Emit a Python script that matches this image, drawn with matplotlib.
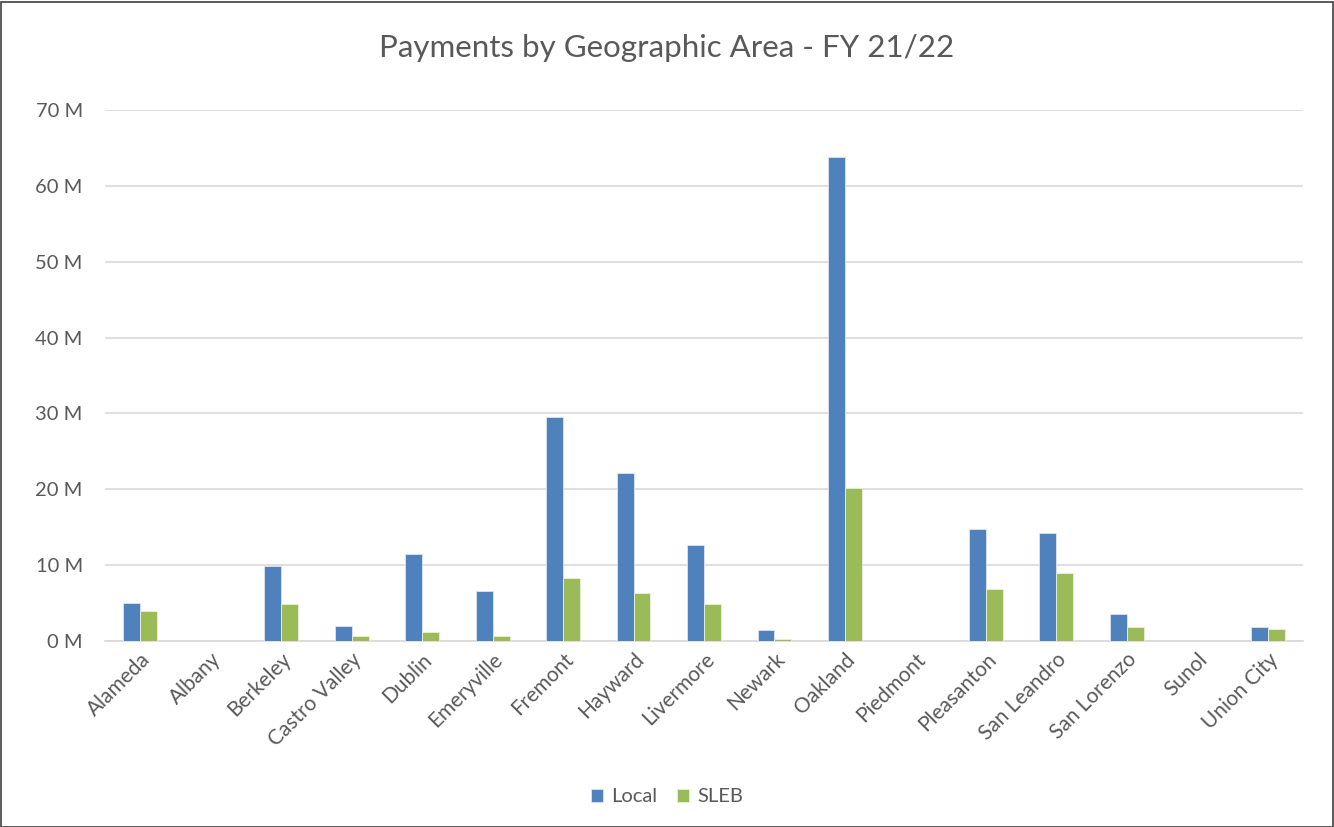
import matplotlib
matplotlib.use("Agg")
import matplotlib.pyplot as plt
import numpy as np
from matplotlib.patches import Rectangle

categories = ["Alameda", "Albany", "Berkeley", "Castro Valley", "Dublin", "Emeryville",
              "Fremont", "Hayward", "Livermore", "Newark", "Oakland", "Piedmont",
              "Pleasanton", "San Leandro", "San Lorenzo", "Sunol", "Union City"]
local_m = [5.0, 0.0, 9.9, 2.0, 11.5, 6.6, 29.5, 22.2, 12.6, 1.5, 63.8, 0.0,
           14.7, 14.2, 3.6, 0.0, 1.8]
sleb_m = [4.0, 0.0, 4.9, 0.6, 1.2, 0.6, 8.3, 6.3, 4.9, 0.2, 20.2, 0.0,
          6.9, 8.9, 1.8, 0.0, 1.6]
yticks = [0, 10, 20, 30, 40, 50, 60, 70]
ytick_labels = ["0 M", "10 M", "20 M", "30 M", "40 M", "50 M", "60 M", "70 M"]

plt.rcParams['font.family'] = ['Lato', 'DejaVu Sans']
txt = '#595959'

fig = plt.figure(figsize=(13.34, 8.27), dpi=100)
ax = fig.add_axes([105/1334, 1 - 641/827, (1303-105)/1334, (641-110)/827])

x = np.arange(len(categories))
w = 0.24
ax.bar(x - w/2, local_m, width=w, color='#4f81bd', edgecolor='#dce6f2', linewidth=0.6, label='Local', zorder=3)
ax.bar(x + w/2, sleb_m, width=w, color='#9bbb59', edgecolor='#ebf1de', linewidth=0.6, label='SLEB', zorder=3)

ax.set_xlim(-0.5, len(categories) - 0.5)
ax.set_ylim(0, 70)
ax.set_yticks(yticks)
ax.set_yticklabels(ytick_labels, fontsize=14.5, color=txt)
ax.set_xticks(x)
ax.set_xticklabels(categories, rotation=45, ha='right', rotation_mode='anchor', fontsize=15, color=txt)
ax.tick_params(axis='both', length=0)
ax.tick_params(axis='y', pad=16)
ax.tick_params(axis='x', pad=6)
ax.grid(axis='y', color='#d9d9d9', linewidth=1.2, zorder=0)
for s in ['top', 'right', 'left']:
    ax.spines[s].set_visible(False)
ax.spines['bottom'].set_color('#d9d9d9')
ax.spines['bottom'].set_linewidth(1.2)

fig.text(0.5, 1 - 48/827, "Payments by Geographic Area - FY 21/22", ha='center', va='center',
         fontsize=22.5, color=txt)

leg = fig.legend(loc='center', bbox_to_anchor=(0.5, 1 - 797/827), ncol=2, frameon=False,
                 fontsize=14.5, handlelength=0.6, handleheight=0.6, columnspacing=1.0, handletextpad=0.4)
for t in leg.get_texts():
    t.set_color(txt)

fig.patches.append(Rectangle((1/1334, 0.5/827), 1 - 2.5/1334, 1 - 2.5/827, transform=fig.transFigure,
                             fill=False, edgecolor='#404040', linewidth=1.2))

fig.savefig("out.png", dpi=100)
